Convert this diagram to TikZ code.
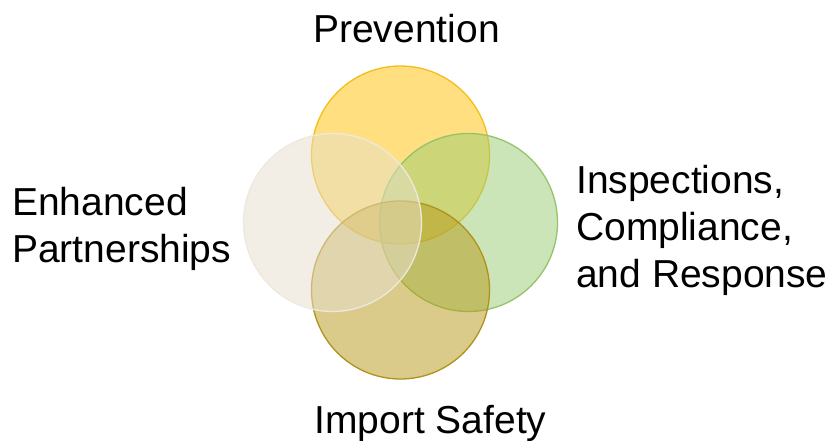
\documentclass[tikz,border=0pt]{standalone}
\usepackage{fontspec}
\setmainfont{Liberation Sans}
\begin{document}
\begin{tikzpicture}[x=1pt,y=-1pt,
  venn/.style={circle,minimum size=178pt,inner sep=0pt,line width=1.3pt,fill opacity=0.5,draw opacity=1},
  lbl/.style={inner sep=0pt,font=\fontsize{39}{47}\selectfont,text=black}]
\definecolor{cYel}{HTML}{FFC000}
\definecolor{cYelD}{HTML}{F2BE1A}
\definecolor{cGrn}{HTML}{9BCD73}
\definecolor{cGrnD}{HTML}{93C46A}
\definecolor{cOlv}{HTML}{B79919}
\definecolor{cOlvD}{HTML}{B0921A}
\definecolor{cCrm}{HTML}{E7DFCD}
\definecolor{cCrmD}{HTML}{EEE9DE}
\useasboundingbox (0,0) rectangle (838,441);
\fill[white] (0,0) rectangle (838,441);
\node[venn,fill=cYel,draw=cYelD] (prev) at (400.5,155) {};
\node[venn,fill=cGrn,draw=cGrnD] (insp) at (468.5,222.5) {};
\node[venn,fill=cOlv,draw=cOlvD] (imp) at (400.5,290) {};
\node[venn,fill=cCrm,draw=cCrmD] (part) at (332.5,222.5) {};
\node[lbl,anchor=base] (tprev) at (406.5,43) {Prevention};
\node[lbl,anchor=base west,align=left] (tinsp) at (576,287) {Inspections,\\Compliance,\\and Response};
\node[lbl,anchor=base west,align=left] (tpart) at (12,262) {Enhanced\\Partnerships};
\node[lbl,anchor=base] (timp) at (430.5,433) {Import Safety};
\end{tikzpicture}
\end{document}
